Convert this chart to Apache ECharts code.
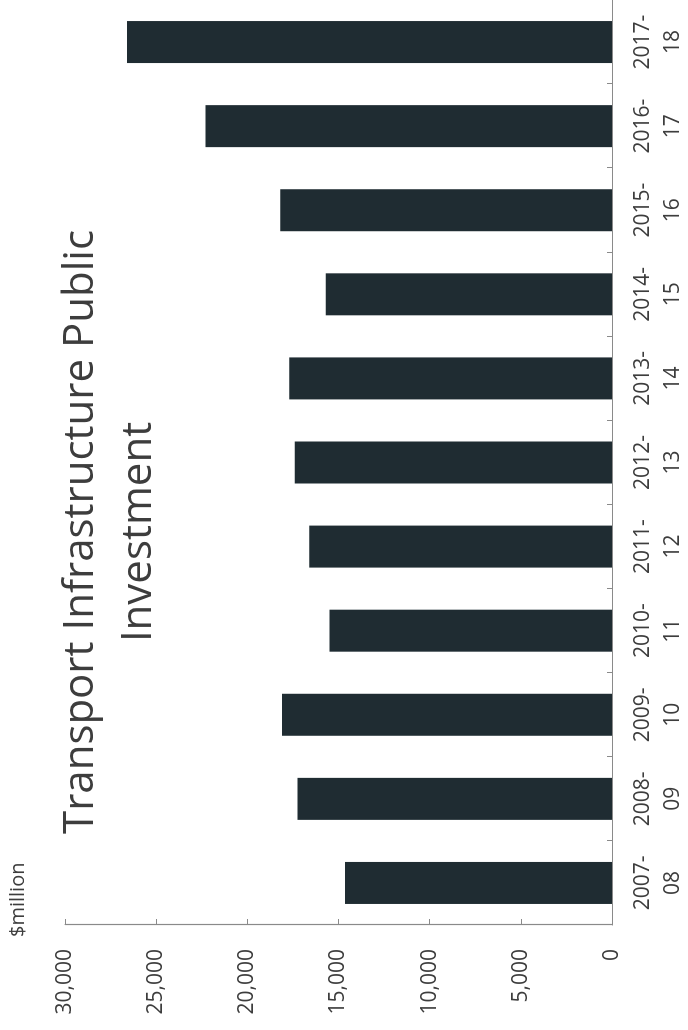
<!DOCTYPE html>
<html>
<head>
<meta charset="utf-8">
<title>Transport Infrastructure Public Investment</title>
<script src="https://cdn.jsdelivr.net/npm/echarts@6/dist/echarts.min.js"></script>
<style>
  html, body { margin: 0; padding: 0; background: #ffffff; overflow: hidden; }
  #page { position: relative; width: 688px; height: 1030px; overflow: hidden; }
  /* The column chart is laid out landscape and turned a quarter-turn counter-clockwise */
  #chart {
    position: absolute; left: 0; top: 0;
    width: 1030px; height: 688px;
    transform-origin: 0 0;
    transform: translate(0, 1030px) rotate(-90deg);
  }
</style>
</head>
<body>
<div id="page"><div id="chart"></div></div>
<script>
// Financial years shown on the category axis
const years = ['2007-08', '2008-09', '2009-10', '2010-11', '2011-12', '2012-13',
               '2013-14', '2014-15', '2015-16', '2016-17', '2017-18'];
// Public investment in transport infrastructure, $million
const investment = [14650, 17250, 18100, 15500, 16600, 17400, 17700, 15700, 18200, 22300, 26600];
// Value axis ticks
const valueTicks = [0, 5000, 10000, 15000, 20000, 25000, 30000];

const chartTitle = ['Transport Infrastructure Public', 'Investment'];
const unitLabel = '$million';

const FONT = '"Open Sans", "Noto Sans", sans-serif';
const TEXT = '#3d3d3d';
const AXIS = '#8a8a8a';
const BAR = '#1f2c32';

const chart = echarts.init(document.getElementById('chart'), null, { renderer: 'canvas' });

chart.setOption({
  animation: false,
  backgroundColor: '#ffffff',
  grid: { left: 105, right: -4, top: 65, bottom: 69, containLabel: false },
  xAxis: {
    type: 'category',
    data: years,
    boundaryGap: true,
    axisLine: { show: true, lineStyle: { color: AXIS, width: 1.2 } },
    axisTick: { show: true, inside: true, length: 5, lineStyle: { color: AXIS } },
    axisLabel: {
      interval: 0,
      margin: 16,
      fontFamily: FONT,
      fontSize: 21,
      lineHeight: 30,
      color: TEXT,
      align: 'center',
      formatter: v => v.replace('-', '-\n')
    }
  },
  yAxis: {
    type: 'value',
    min: valueTicks[0],
    max: valueTicks[valueTicks.length - 1],
    interval: valueTicks[1] - valueTicks[0],
    axisLine: { show: true, lineStyle: { color: AXIS, width: 1.2 } },
    axisTick: { show: true, inside: true, length: 6, lineStyle: { color: AXIS } },
    splitLine: { show: false },
    axisLabel: {
      margin: 24,
      fontFamily: FONT,
      fontSize: 21,
      color: TEXT,
      formatter: v => v.toLocaleString('en-US')
    }
  },
  graphic: [
    {
      type: 'text',
      left: 93,
      top: 8,
      style: { text: unitLabel, font: '20px ' + FONT, fill: TEXT }
    },
    {
      type: 'text',
      x: 498,
      y: 52,
      style: {
        text: chartTitle.join('\n'),
        font: '42px ' + FONT,
        lineHeight: 58,
        fill: TEXT,
        align: 'center',
        verticalAlign: 'top'
      }
    }
  ],
  series: [{
    type: 'bar',
    data: investment,
    barWidth: 42,
    itemStyle: { color: BAR },
    silent: true
  }]
});
</script>
</body>
</html>
